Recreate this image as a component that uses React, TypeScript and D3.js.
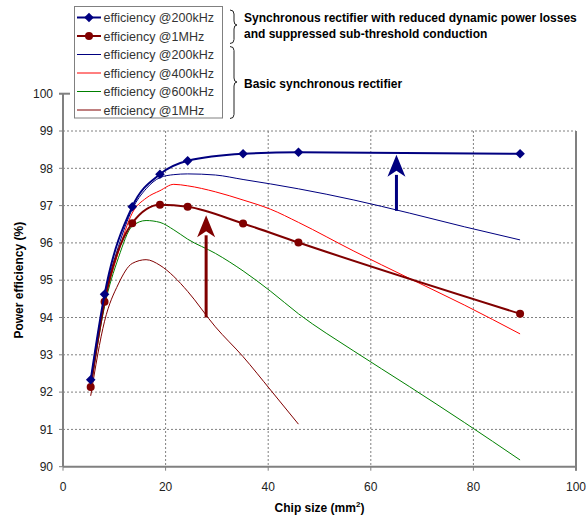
import React from 'react';
import * as d3 from 'd3';

// chip sizes (mm2) where the curves are sampled
const chipSize = [5.4, 8.1, 13.5, 18.9, 24.3, 35.1, 45.9, 89.1];
const chipSizeFine = [5.4, 8.1, 10.8, 13.5, 16.2, 18.9, 21.6, 24.3, 29.7, 35.1, 40.5, 45.9, 56.7, 67.5, 78.3, 89.1];

// reduced losses rectifier
const eff200kReduced = [92.33, 94.62, 96.97, 97.84, 98.2, 98.39, 98.43, 98.39];
const eff1MReduced = [92.14, 94.42, 96.53, 97.02, 96.97, 96.52, 96.01, 94.1];

// basic rectifier
const eff200kBasic = [92.3, 94.55, 95.9, 96.9, 97.45, 97.75, 97.83, 97.85, 97.82, 97.7, 97.58, 97.45, 97.15, 96.8, 96.43, 96.08];
const eff400kBasic = [92.2, 94.4, 95.75, 96.8, 97.2, 97.4, 97.57, 97.53, 97.37, 97.15, 96.9, 96.55, 95.78, 95.05, 94.33, 93.56];
const eff600kBasic = [92.1, 94.3, 95.6, 96.45, 96.6, 96.55, 96.35, 96.1, 95.72, 95.25, 94.7, 94.1, 93.1, 92.15, 91.18, 90.18];
const eff1MBasic = [91.9, 93.9, 94.9, 95.45, 95.55, 95.4, 95.1, 94.7, 93.75, 92.95, 92.05, 91.14];

const xTicks = [0, 20, 40, 60, 80, 100];
const yTicks = [90, 91, 92, 93, 94, 95, 96, 97, 98, 99, 100];

const legendLabels = [
  'efficiency @200kHz',
  'efficiency @1MHz',
  'efficiency @200kHz',
  'efficiency @400kHz',
  'efficiency @600kHz',
  'efficiency @1MHz'
];

// arrows: [x, from, to]
const arrowBlue = [65, 96.86, 98.36];
const arrowRed = [27.9, 94.0, 96.74];

const NAVY = '#000080';
const MAROON = '#800000';
const AXIS = '#808080';

export default function App() {
  const x = d3.scaleLinear().domain([0, 100]).range([63, 576]);
  const y = d3.scaleLinear().domain([90, 100]).range([466.7, 93.7]);

  const line = d3
    .line<[number, number]>()
    .x(d => x(d[0]))
    .y(d => y(d[1]))
    .curve(d3.curveMonotoneX);

  const pts = (xs: number[], ys: number[]) => ys.map((v, i) => [xs[i], v] as [number, number]);

  const basic = [
    { data: eff200kBasic, color: NAVY },
    { data: eff400kBasic, color: '#ff0000' },
    { data: eff600kBasic, color: '#008000' },
    { data: eff1MBasic, color: MAROON }
  ];

  const diamond = d3.symbol(d3.symbolSquare, 46)();
  const top = y(99);

  const arrow = (a: number[], color: string) => {
    const ax = x(a[0]),
      y0 = y(a[1]),
      y1 = y(a[2]);
    const headH = 22,
      headW = 9;
    return (
      <g>
        <line x1={ax} x2={ax} y1={y0} y2={y1 + headH - 2} stroke={color} strokeWidth={3} />
        <path
          d={`M${ax},${y1} L${ax + headW},${y1 + headH} L${ax},${y1 + headH - 6} L${ax - headW},${y1 + headH} Z`}
          fill={color}
        />
      </g>
    );
  };

  const brace = (x0: number, yTop: number, yBot: number, yTip: number) => {
    const w = 4;
    return (
      <path
        d={`M${x0},${yTop} Q${x0 + w},${yTop} ${x0 + w},${yTop + 4} L${x0 + w},${yTip - 4} Q${x0 + w},${yTip} ${x0 + w + 3},${yTip}
            Q${x0 + w},${yTip} ${x0 + w},${yTip + 4} L${x0 + w},${yBot - 4} Q${x0 + w},${yBot} ${x0},${yBot}`}
        fill="none"
        stroke="#222"
        strokeWidth={1}
      />
    );
  };

  return (
    <svg
      width={587}
      height={517}
      style={{ position: 'absolute', left: 0, top: 0, background: '#fff' }}
      fontFamily="Arial, 'Liberation Sans', sans-serif"
    >
      {/* grid */}
      <g stroke={AXIS} strokeWidth={1} strokeDasharray="2,2">
        {yTicks
          .filter(t => t > 90 && t < 100)
          .map(t => (
            <line key={'gy' + t} x1={x(0)} x2={x(100)} y1={y(t)} y2={y(t)} />
          ))}
        {xTicks
          .filter(t => t > 0 && t < 100)
          .map(t => (
            <line key={'gx' + t} x1={x(t)} x2={x(t)} y1={top} y2={y(90)} />
          ))}
      </g>

      {/* axes */}
      <g stroke={AXIS} strokeWidth={2}>
        <line x1={x(0)} x2={x(0)} y1={y(100)} y2={y(90)} />
        <line x1={x(0)} x2={x(100)} y1={y(90)} y2={y(90)} />
        <line x1={x(100)} x2={x(100)} y1={top} y2={y(90) + 4} />
        <line x1={x(0) - 4} x2={x(0) + 7} y1={y(100)} y2={y(100)} />
      </g>
      <g stroke={AXIS} strokeWidth={1}>
        {yTicks.map(t => (
          <line key={'ty' + t} x1={x(0) - 4} x2={x(0)} y1={y(t)} y2={y(t)} />
        ))}
        {xTicks.map(t => (
          <line key={'tx' + t} x1={x(t)} x2={x(t)} y1={y(90)} y2={y(90) + 4} />
        ))}
      </g>

      {/* tick labels */}
      <g fontSize={12} fill="#222">
        {yTicks.map(t => (
          <text key={'ly' + t} x={53} y={y(t)} dy="0.35em" textAnchor="end">
            {t}
          </text>
        ))}
        {xTicks.map(t => (
          <text key={'lx' + t} x={x(t)} y={491} textAnchor="middle">
            {t}
          </text>
        ))}
      </g>

      {/* axis titles */}
      <text
        transform={`translate(23,${(y(90) + y(100)) / 2}) rotate(-90)`}
        textAnchor="middle"
        fontSize={12}
        fontWeight="bold"
        fill="#000"
      >
        Power efficiency (%)
      </text>
      <text x={(x(0) + x(100)) / 2} y={512} textAnchor="middle" fontSize={12} fontWeight="bold" fill="#000">
        Chip size (mm<tspan fontSize={8} dy={-5}>2</tspan>
        <tspan dy={5}>)</tspan>
      </text>

      {/* basic curves */}
      {basic.map((s, i) => (
        <path key={'b' + i} d={line(pts(chipSizeFine, s.data)) || ''} fill="none" stroke={s.color} strokeWidth={1} />
      ))}

      {/* reduced-loss curves */}
      <path d={line(pts(chipSize, eff1MReduced)) || ''} fill="none" stroke={MAROON} strokeWidth={2} />
      {eff1MReduced.map((v, i) => (
        <circle key={'c' + i} cx={x(chipSize[i])} cy={y(v)} r={4} fill={MAROON} />
      ))}
      <path d={line(pts(chipSize, eff200kReduced)) || ''} fill="none" stroke={NAVY} strokeWidth={2} />
      {eff200kReduced.map((v, i) => (
        <path
          key={'d' + i}
          d={diamond || ''}
          transform={`translate(${x(chipSize[i])},${y(v)}) rotate(45)`}
          fill={NAVY}
        />
      ))}

      {arrow(arrowBlue, NAVY)}
      {arrow(arrowRed, MAROON)}

      {/* legend */}
      <rect x={74.5} y={6.5} width={148} height={111.5} fill="#fff" stroke={AXIS} strokeWidth={1} />
      {legendLabels.map((lab, i) => {
        const ly = 17.5 + 18.5 * i;
        const color = [NAVY, MAROON, NAVY, '#ff0000', '#008000', MAROON][i];
        return (
          <g key={'lg' + i}>
            <line x1={77} x2={101} y1={ly} y2={ly} stroke={color} strokeWidth={i < 2 ? 2 : 1} />
            {i === 0 && <path d={diamond || ''} transform={`translate(89,${ly}) rotate(45)`} fill={NAVY} />}
            {i === 1 && <circle cx={89} cy={ly} r={4} fill={MAROON} />}
            <text x={103.5} y={ly} dy="0.36em" fontSize={12.5} fill="#333">
              {lab}
            </text>
          </g>
        );
      })}

      {/* group annotations */}
      {brace(230, 10, 43.5, 25)}
      {brace(230, 46.5, 118.5, 82)}
      <g fontSize={12} fontWeight="bold" fill="#000">
        <text x={244} y={21.5}>
          Synchronous rectifier with reduced dynamic power losses
        </text>
        <text x={244} y={38}>
          and suppressed sub-threshold conduction
        </text>
        <text x={244} y={87.5}>
          Basic synchronous rectifier
        </text>
      </g>
    </svg>
  );
}
